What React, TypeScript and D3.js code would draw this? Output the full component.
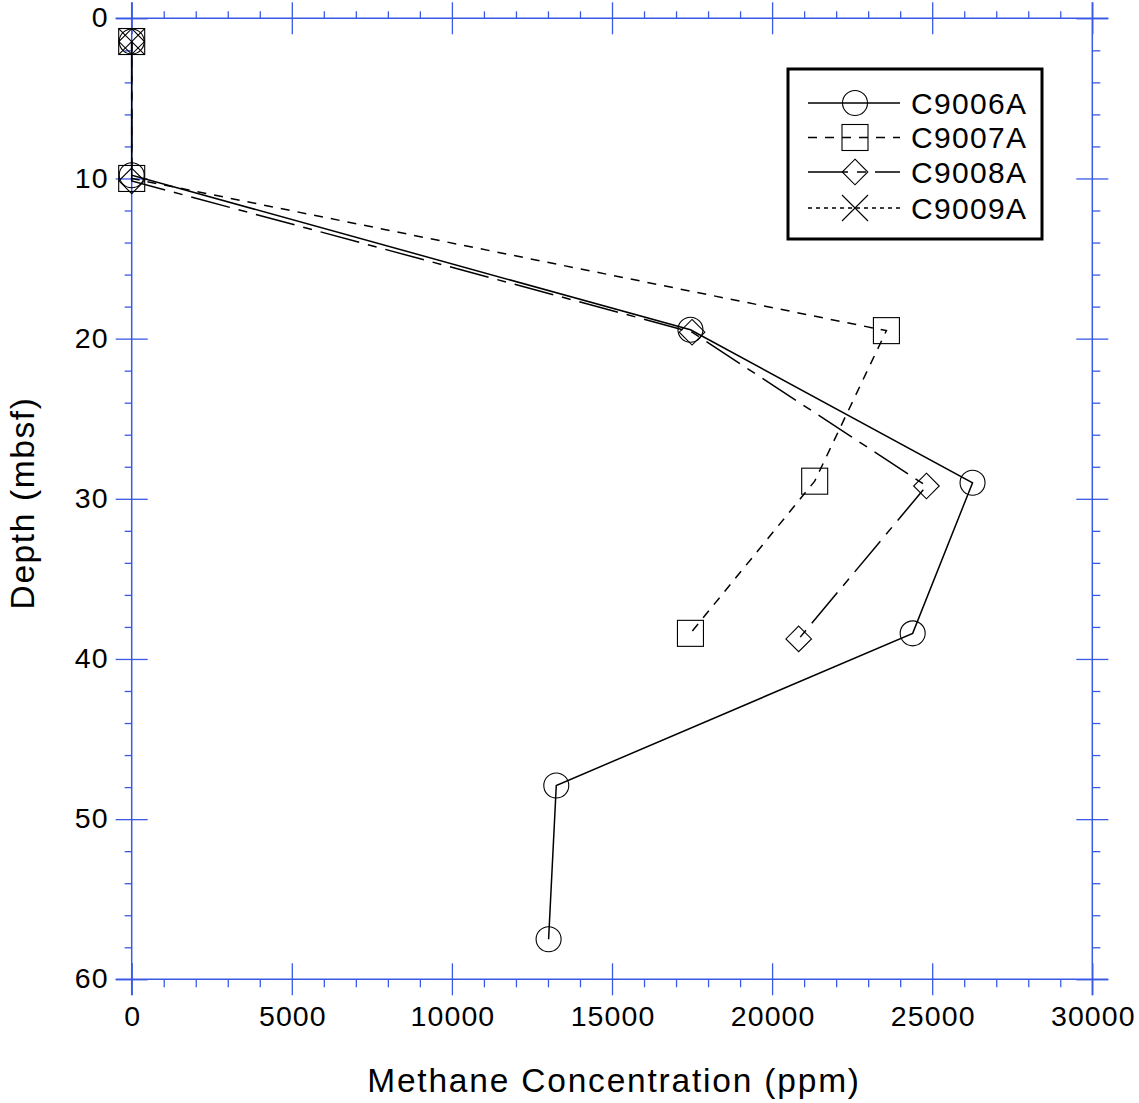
import React, { useRef, useEffect } from 'react';
import * as d3 from 'd3';

// Methane concentration (ppm) vs depth (mbsf) per site
const c9006Conc = [0, 0, 17450, 26260, 24390, 13260, 13020];
const c9006Depth = [1.45, 9.8, 19.45, 29.0, 38.4, 47.9, 57.5];

const c9007Conc = [0, 0, 23570, 21330, 17450];
const c9007Depth = [1.45, 10.0, 19.5, 28.9, 38.4];

const c9008Conc = [0, 0, 17500, 24820, 20830];
const c9008Depth = [1.45, 10.15, 19.6, 29.2, 38.75];

const c9009Conc = [0];
const c9009Depth = [1.45];

const siteNames = ['C9006A', 'C9007A', 'C9008A', 'C9009A'];
const markerTypes = ['circle', 'square', 'diamond', 'cross'];
const dashStyles = ['none', '9,8', '40,9,9,9', '4,4'];

const xMajorTicks = [0, 5000, 10000, 15000, 20000, 25000, 30000];
const yMajorTicks = [0, 10, 20, 30, 40, 50, 60];

const FONT = '"Liberation Sans", Arial, Helvetica, sans-serif';
const AXIS_BLUE = '#3a5ae6';

const App = () => {
  const ref = useRef<SVGSVGElement | null>(null);

  useEffect(() => {
    const W = 1139;
    const H = 1103;
    const left = 131.7, right = 1092.3, top = 18.3, bottom = 979.3;

    const svg = d3.select(ref.current);
    svg.selectAll('*').remove();
    svg.attr('width', W).attr('height', H);

    const x = d3.scaleLinear().domain([0, 30000]).range([left, right]);
    const y = d3.scaleLinear().domain([0, 60]).range([top, bottom]);

    const xMinor = d3.range(0, 30001, 1000).filter(v => v % 5000 !== 0);
    const yMinor = d3.range(0, 61, 2).filter(v => v % 10 !== 0);

    const styleAxis = (g: any) => {
      g.select('.domain').remove();
      g.selectAll('line').attr('stroke', AXIS_BLUE).attr('stroke-width', 1.3);
      g.selectAll('text')
        .attr('fill', '#000')
        .attr('font-size', 28.5)
        .attr('letter-spacing', 1.1)
        .attr('font-family', FONT);
    };

    // frame lines
    const frame = svg.append('g').attr('stroke', AXIS_BLUE).attr('stroke-width', 1.5);
    frame.append('line').attr('x1', left - 16).attr('x2', right + 16).attr('y1', top).attr('y2', top);
    frame.append('line').attr('x1', left - 16).attr('x2', right + 16).attr('y1', bottom).attr('y2', bottom);
    frame.append('line').attr('x1', left).attr('x2', left).attr('y1', top - 16).attr('y2', bottom + 16);
    frame.append('line').attr('x1', right).attr('x2', right).attr('y1', top - 16).attr('y2', bottom + 16);

    // bottom axis with labels
    const bx = svg.append('g').attr('transform', `translate(0,${bottom})`)
      .call(d3.axisBottom(x).tickValues(xMajorTicks).tickSizeInner(16).tickSizeOuter(0).tickPadding(10).tickFormat(d3.format('d')))
      .call(styleAxis);
    bx.selectAll('text').attr('dx', 0.55);
    svg.append('g').attr('transform', `translate(0,${bottom})`)
      .call(d3.axisBottom(x).tickValues(xMajorTicks).tickSize(-16).tickFormat(() => ''))
      .call(styleAxis);
    svg.append('g').attr('transform', `translate(0,${bottom})`)
      .call(d3.axisBottom(x).tickValues(xMinor).tickSize(8).tickFormat(() => ''))
      .call(styleAxis);

    // top axis
    svg.append('g').attr('transform', `translate(0,${top})`)
      .call(d3.axisTop(x).tickValues(xMajorTicks).tickSize(16).tickFormat(() => ''))
      .call(styleAxis);
    svg.append('g').attr('transform', `translate(0,${top})`)
      .call(d3.axisTop(x).tickValues(xMajorTicks).tickSize(-16).tickFormat(() => ''))
      .call(styleAxis);
    svg.append('g').attr('transform', `translate(0,${top})`)
      .call(d3.axisTop(x).tickValues(xMinor).tickSize(7).tickFormat(() => ''))
      .call(styleAxis);

    // left axis with labels
    const ly = svg.append('g').attr('transform', `translate(${left},0)`)
      .call(d3.axisLeft(y).tickValues(yMajorTicks).tickSizeInner(16).tickSizeOuter(0).tickPadding(7))
      .call(styleAxis);
    ly.selectAll('text').attr('dy', '0.3em');
    svg.append('g').attr('transform', `translate(${left},0)`)
      .call(d3.axisLeft(y).tickValues(yMajorTicks).tickSize(-16).tickFormat(() => ''))
      .call(styleAxis);
    svg.append('g').attr('transform', `translate(${left},0)`)
      .call(d3.axisLeft(y).tickValues(yMinor).tickSize(7).tickFormat(() => ''))
      .call(styleAxis);

    // right axis
    svg.append('g').attr('transform', `translate(${right},0)`)
      .call(d3.axisRight(y).tickValues(yMajorTicks).tickSize(16).tickFormat(() => ''))
      .call(styleAxis);
    svg.append('g').attr('transform', `translate(${right},0)`)
      .call(d3.axisRight(y).tickValues(yMajorTicks).tickSize(-16).tickFormat(() => ''))
      .call(styleAxis);
    svg.append('g').attr('transform', `translate(${right},0)`)
      .call(d3.axisRight(y).tickValues(yMinor).tickSize(8).tickFormat(() => ''))
      .call(styleAxis);

    // axis titles
    svg.append('text')
      .attr('x', 614).attr('y', 1091.5)
      .attr('text-anchor', 'middle')
      .attr('font-family', FONT).attr('font-size', 33.5)
      .attr('letter-spacing', 1.8)
      .text('Methane Concentration (ppm)');
    svg.append('text')
      .attr('transform', `translate(33.5,503) rotate(-90)`)
      .attr('text-anchor', 'middle')
      .attr('font-family', FONT).attr('font-size', 33.5)
      .attr('letter-spacing', 1.6)
      .text('Depth (mbsf)');

    // markers
    const drawMarker = (g: any, type: string, cx: number, cy: number) => {
      const s = g.append('g').attr('fill', 'none').attr('stroke', '#000').attr('stroke-width', 1.1);
      if (type === 'circle') {
        s.append('circle').attr('cx', cx).attr('cy', cy).attr('r', 12.5);
      } else if (type === 'square') {
        s.append('rect').attr('x', cx - 13).attr('y', cy - 13).attr('width', 26).attr('height', 26);
      } else if (type === 'diamond') {
        s.append('path').attr('d', `M${cx},${cy - 12.8}L${cx + 12.8},${cy}L${cx},${cy + 12.8}L${cx - 12.8},${cy}Z`);
      } else {
        s.append('path').attr('d', `M${cx - 13},${cy - 13}L${cx + 13},${cy + 13}M${cx - 13},${cy + 13}L${cx + 13},${cy - 13}`);
      }
    };

    const seriesConc = [c9006Conc, c9007Conc, c9008Conc, c9009Conc];
    const seriesDepth = [c9006Depth, c9007Depth, c9008Depth, c9009Depth];

    const line = d3.line<[number, number]>().x(d => x(d[0])).y(d => y(d[1]));
    const plot = svg.append('g');

    seriesConc.forEach((conc, i) => {
      const pts: [number, number][] = conc.map((c, j) => [c, seriesDepth[i][j]]);
      if (pts.length > 1) {
        plot.append('path')
          .attr('d', line(pts))
          .attr('fill', 'none')
          .attr('stroke', '#000')
          .attr('stroke-width', 1.5)
          .attr('stroke-dasharray', dashStyles[i]);
      }
      pts.forEach(p => drawMarker(plot, markerTypes[i], x(p[0]), y(p[1])));
    });

    // legend
    const legend = svg.append('g');
    legend.append('rect')
      .attr('x', 788).attr('y', 69).attr('width', 254).attr('height', 170)
      .attr('fill', '#fff').attr('stroke', '#000').attr('stroke-width', 3);
    const rowY = [103, 137.5, 172, 208];
    siteNames.forEach((name, i) => {
      legend.append('line')
        .attr('x1', 808).attr('x2', 900).attr('y1', rowY[i]).attr('y2', rowY[i])
        .attr('stroke', '#000').attr('stroke-width', 1.5)
        .attr('stroke-dasharray', dashStyles[i]);
      drawMarker(legend, markerTypes[i], 855, rowY[i]);
      legend.append('text')
        .attr('x', 911).attr('y', rowY[i])
        .attr('dy', '0.36em')
        .attr('font-family', FONT).attr('font-size', 30)
        .attr('letter-spacing', 1.3)
        .text(name);
    });
  }, []);

  return <svg ref={ref} style={{ position: 'absolute', left: 0, top: 0, background: '#fff' }}></svg>;
};

export default App;
